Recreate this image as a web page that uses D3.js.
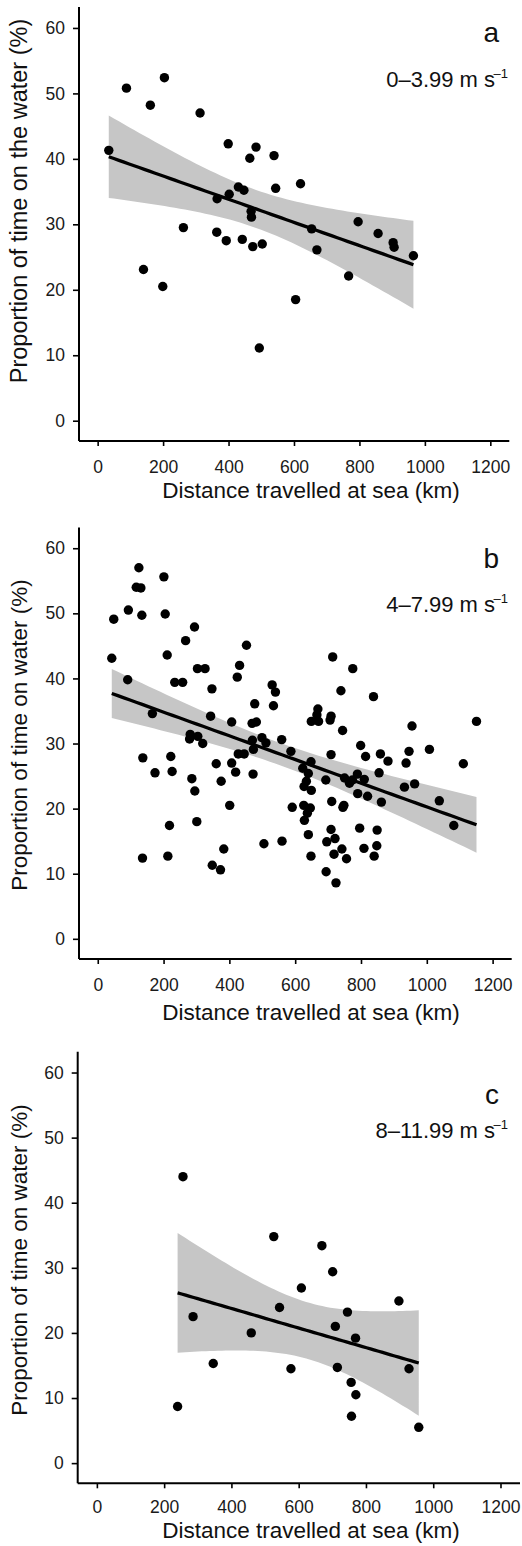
<!DOCTYPE html>
<html>
<head>
<meta charset="utf-8">
<script src="https://cdn.jsdelivr.net/npm/d3@7"></script>
<style>
  html, body { margin: 0; padding: 0; background: #fff; }
  svg { display: block; font-family: "Liberation Sans", Arial, Helvetica, sans-serif; }
</style>
</head>
<body>
<svg id="chart" width="522" height="1546"></svg>
<script>
// ---------- data ----------
const xTicks = [0, 200, 400, 600, 800, 1000, 1200];
const yTicks = [0, 10, 20, 30, 40, 50, 60];

const panelLetters = ["a", "b", "c"];
const panelSpeeds = ["0–3.99 m s", "4–7.99 m s", "8–11.99 m s"];
const yTitles = ["Proportion of time on the water (%)", "Proportion of time on water (%)", "Proportion of time on water (%)"];
const xTitle = "Distance travelled at sea (km)";

// Panel a: 0–3.99 m/s
const distA = [34, 88, 161, 204, 140, 199, 262, 313, 365, 364, 393, 399, 402, 430, 447, 442, 465, 469, 470, 474, 484, 503, 494, 539, 544, 620, 605, 654, 670, 767, 796, 857, 903, 906, 965];
const propA = [41.3, 50.8, 48.2, 52.4, 23.1, 20.5, 29.5, 47.0, 33.9, 28.8, 27.5, 42.3, 34.6, 35.7, 35.2, 27.7, 40.1, 32.0, 31.1, 26.6, 41.8, 27.0, 11.1, 40.5, 35.5, 36.2, 18.5, 29.3, 26.1, 22.1, 30.4, 28.6, 27.2, 26.5, 25.2];

// Panel b: 4–7.99 m/s
const distB = [42.6, 48.6, 91, 93, 125, 117, 131, 134, 137, 136, 166, 174, 201, 205, 211, 218, 213, 222, 226, 234,
  258, 267, 281, 279, 286, 294, 295, 301, 303, 304, 319, 326, 347, 343, 360, 348, 373, 375, 383, 401,
  407, 407, 419, 424, 431, 427, 445, 452, 469, 470, 472, 473, 477, 482, 499, 505, 511, 530, 540, 534,
  559, 560, 587, 591, 623, 627, 626, 628, 640, 637, 646, 648, 649, 640, 648, 634, 649, 669, 666, 671,
  693, 694, 696, 709, 706, 709, 711, 709, 714, 718, 721, 724, 739, 744, 745, 748, 750, 742, 756, 765,
  775, 774, 789, 790, 799, 796, 810, 814, 809, 820, 838, 840, 849, 848, 855, 859, 862, 882, 932, 937,
  946, 955, 963, 1008, 1038, 1082, 1111, 1151];
const propB = [43.1, 49.1, 39.8, 50.5, 57.0, 54.0, 53.9, 49.7, 27.8, 12.4, 34.6, 25.5, 55.6, 49.9, 43.6, 17.4, 12.7, 28.0, 25.7, 39.4,
  39.4, 45.8, 31.4, 30.7, 24.6, 47.9, 22.7, 18.0, 41.5, 31.1, 30.0, 41.5, 38.4, 34.2, 26.9, 11.3, 10.6, 24.2, 13.8, 20.5,
  33.3, 27.0, 25.6, 40.2, 42.0, 28.4, 28.4, 45.1, 33.1, 30.5, 25.3, 29.1, 36.1, 33.3, 30.9, 14.6, 30.1, 39.0, 37.9, 35.8,
  30.6, 15.0, 28.8, 20.2, 26.2, 23.4, 20.5, 18.2, 25.4, 19.3, 20.1, 27.2, 22.8, 16.0, 12.7, 24.2, 33.4, 35.3, 34.4, 33.4,
  24.4, 10.3, 14.9, 34.2, 33.6, 28.3, 21.1, 16.8, 43.3, 13.0, 15.4, 8.6, 38.1, 32.0, 20.2, 20.5, 24.7, 13.8, 12.3, 23.9,
  41.5, 24.4, 25.3, 22.3, 29.7, 17.0, 24.5, 28.0, 13.9, 21.9, 37.2, 12.7, 16.7, 14.3, 25.5, 28.4, 21.0, 27.3, 23.3, 27.0,
  28.8, 32.7, 23.8, 29.1, 21.2, 17.4, 26.9, 33.4];

// Panel c: 8–11.99 m/s
const distC = [256, 240, 286, 346, 459, 526, 543, 577, 608, 669, 701, 709, 715, 745, 756, 757, 769, 770, 898, 928, 957];
const propC = [44.0, 8.7, 22.5, 15.3, 20.0, 34.8, 23.9, 14.5, 26.9, 33.4, 29.4, 21.0, 14.7, 23.2, 12.4, 7.2, 19.2, 10.5, 24.9, 14.5, 5.5];

// 95% two-sided t critical values for n-2 degrees of freedom (33, 126, 19)
const tCrit = [2.035, 1.979, 2.093];

// ---------- layout ----------
const xDomain = [-57, 1258];
const yDomain = [-3.1, 63.2];
const panels = [
  { xs: distA, ys: propA, xr: [79, 509.3], yr: [441, 7],       yTitleY: 201,  xLab: 473,  xTitleY: 498,  letterY: 42,   speedY: 87 },
  { xs: distB, ys: propB, xr: [79, 511.7], yr: [959, 527.4],   yTitleY: 735,  xLab: 991,  xTitleY: 1020, letterY: 568,  speedY: 612 },
  { xs: distC, ys: propC, xr: [77.7, 520], yr: [1483.3, 1051.7], yTitleY: 1260, xLab: 1513, xTitleY: 1538, letterY: 1104, speedY: 1138 }
];

const svg = d3.select("#chart");

function olsFit(xs, ys, t) {
  const n = xs.length;
  const mx = d3.mean(xs), my = d3.mean(ys);
  let sxx = 0, sxy = 0;
  for (let i = 0; i < n; i++) { sxx += (xs[i] - mx) ** 2; sxy += (xs[i] - mx) * (ys[i] - my); }
  const b = sxy / sxx, a = my - b * mx;
  let sse = 0;
  for (let i = 0; i < n; i++) sse += (ys[i] - a - b * xs[i]) ** 2;
  const s2 = sse / (n - 2);
  const [lo, hi] = d3.extent(xs);
  return d3.range(0, 61).map(k => {
    const x = lo + (hi - lo) * k / 60;
    const f = a + b * x;
    const se = Math.sqrt(s2 * (1 / n + (x - mx) ** 2 / sxx));
    return { x, f, lo: f - t * se, hi: f + t * se };
  });
}

panels.forEach((p, i) => {
  const x = d3.scaleLinear().domain(xDomain).range(p.xr);
  const y = d3.scaleLinear().domain(yDomain).range(p.yr);
  const g = svg.append("g");

  const fit = olsFit(p.xs, p.ys, tCrit[i]);

  // confidence band
  g.append("path")
    .datum(fit)
    .attr("fill", "#c6c6c6")
    .attr("d", d3.area().x(d => x(d.x)).y0(d => y(d.lo)).y1(d => y(d.hi)));

  // regression line
  g.append("path")
    .datum(fit)
    .attr("fill", "none")
    .attr("stroke", "#000")
    .attr("stroke-width", 3.3)
    .attr("d", d3.line().x(d => x(d.x)).y(d => y(d.f)));

  // points
  g.selectAll("circle.pt")
    .data(p.xs.map((v, k) => [v, p.ys[k]]))
    .join("circle")
    .attr("class", "pt")
    .attr("cx", d => x(d[0]))
    .attr("cy", d => y(d[1]))
    .attr("r", 4.7)
    .attr("fill", "#000");

  // axes
  const xAxis = d3.axisBottom(x).tickValues(xTicks).tickFormat(d3.format("d"))
    .tickSize(5).tickSizeOuter(0).tickPadding(0);
  const yAxis = d3.axisLeft(y).tickValues(yTicks).tickFormat(d3.format("d"))
    .tickSize(6).tickSizeOuter(0).tickPadding(8);

  const gx = g.append("g").attr("transform", `translate(0,${p.yr[0]})`).call(xAxis);
  gx.select(".domain").attr("stroke-width", 2).attr("d", `M${p.xr[0]},0H${p.xr[1]}`);
  gx.selectAll(".tick line").attr("stroke-width", 1.6);
  gx.selectAll(".tick text")
    .attr("dy", null)
    .attr("font-size", 17.5)
    .attr("fill", "#1a1a1a")
    .attr("font-family", "Liberation Sans, Arial, sans-serif")
    .attr("y", p.xLab - p.yr[0]);

  const gy = g.append("g").attr("transform", `translate(${p.xr[0]},0)`).call(yAxis);
  gy.select(".domain").attr("stroke-width", 2).attr("d", `M0,${p.yr[1]}V${p.yr[0]}`);
  gy.selectAll(".tick line").attr("stroke-width", 1.6);
  gy.selectAll(".tick text")
    .attr("font-size", 17.5)
    .attr("fill", "#1a1a1a")
    .attr("font-family", "Liberation Sans, Arial, sans-serif");

  // axis titles
  g.append("text")
    .attr("x", 311).attr("y", p.xTitleY)
    .attr("text-anchor", "middle")
    .attr("font-size", 22.5)
    .attr("fill", "#111")
    .text(xTitle);

  g.append("text")
    .attr("transform", `translate(27,${p.yTitleY}) rotate(-90)`)
    .attr("text-anchor", "middle")
    .attr("font-size", i === 0 ? 23.5 : 22.5)
    .attr("fill", "#111")
    .text(yTitles[i]);

  // panel letter
  g.append("text")
    .attr("x", 499).attr("y", p.letterY)
    .attr("text-anchor", "end")
    .attr("font-size", 28)
    .attr("fill", "#111")
    .text(panelLetters[i]);

  // wind speed label with superscript
  const st = g.append("text")
    .attr("x", 508).attr("y", p.speedY)
    .attr("text-anchor", "end")
    .attr("font-size", 22)
    .attr("fill", "#111");
  st.append("tspan").text(panelSpeeds[i]);
  st.append("tspan").attr("font-size", 13).attr("dx", -1.5).attr("dy", -9).text("–1");
});
</script>
</body>
</html>
